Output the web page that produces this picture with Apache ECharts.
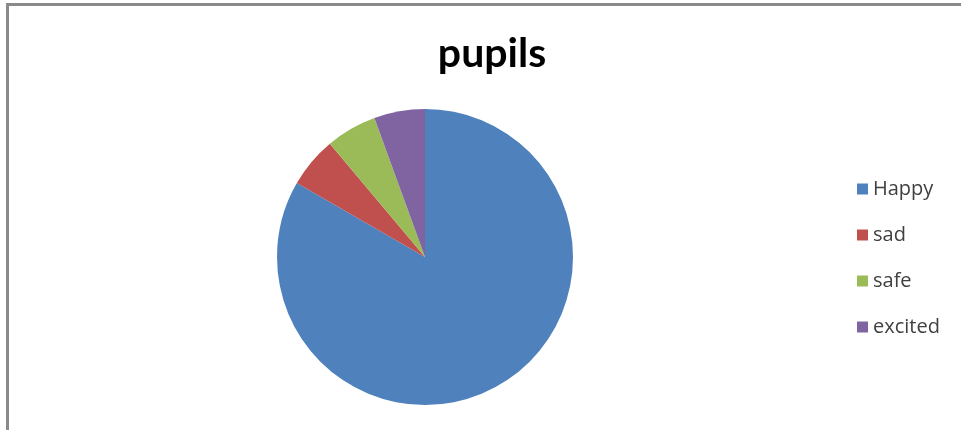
<!DOCTYPE html>
<html><head><meta charset="utf-8">
<script src="https://cdn.jsdelivr.net/npm/echarts@6/dist/echarts.min.js"></script>
<style>html,body{margin:0;padding:0;background:#fff}#c{width:961px;height:430px}</style>
</head><body><div id="c"></div>
<script>
const categories = ['Happy', 'sad', 'safe', 'excited'];
const values = [15, 1, 1, 1];
const colors = ['#4F81BD', '#C0504D', '#9BBB59', '#8064A2'];
const titleText = 'pupils';

const chart = echarts.init(document.getElementById('c'), null, {renderer: 'canvas'});
chart.setOption({
  backgroundColor: '#fff',
  animation: false,
  color: colors,
  title: {
    text: titleText, left: 487, top: 28, textAlign: 'center',
    textStyle: {fontFamily: 'Lato', fontWeight: 'bold', fontSize: 41, color: '#000'}
  },
  graphic: [
    {type: 'line', shape: {x1: 7.5, y1: 4, x2: 7.5, y2: 430}, style: {stroke: '#8a8a8a', lineWidth: 3}},
    {type: 'line', shape: {x1: 6, y1: 4.5, x2: 961, y2: 4.5}, style: {stroke: '#8a8a8a', lineWidth: 3}}
  ],
  legend: {
    orient: 'vertical', left: 852, top: 173,
    itemWidth: 11, itemHeight: 11, itemGap: 24,
    icon: 'rect',
    textStyle: {fontFamily: 'Open Sans', fontSize: 20, lineHeight: 22, color: '#404040', padding: [0, 0, 0, 0]},
    data: categories
  },
  series: [{
    type: 'pie', center: [425, 257], radius: 148, startAngle: 90, clockwise: true,
    label: {show: false}, labelLine: {show: false},
    emphasis: {disabled: true},
    itemStyle: {borderWidth: 0},
    data: categories.map((n, i) => ({name: n, value: values[i]}))
  }]
});
</script></body></html>
